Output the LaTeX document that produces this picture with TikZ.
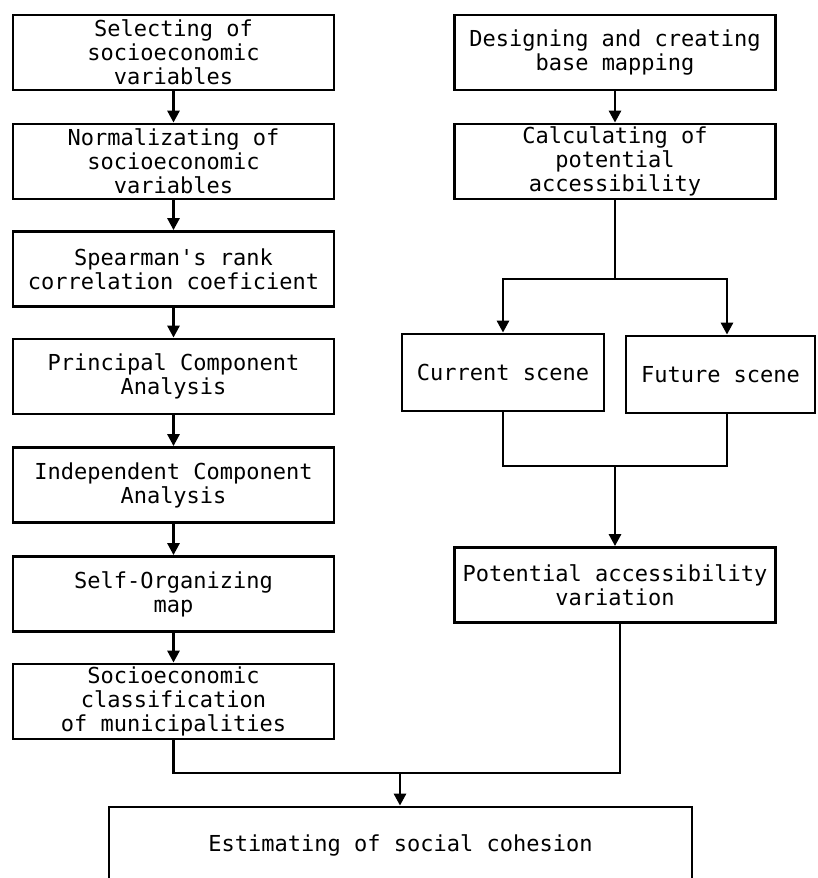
\documentclass[tikz,border=0pt]{standalone}
\usepackage{fontspec}
\setmonofont{DejaVu Sans Mono}
\usepackage{tikz}
\usetikzlibrary{arrows.meta, positioning, calc}

\begin{document}
\begin{tikzpicture}[x=1pt, y=-1pt,
  box/.style={draw, line width=2.8pt, align=center, inner sep=2pt,
    font=\ttfamily\fontsize{22}{24}\selectfont},
  wide/.style={minimum width=321pt, minimum height=75pt},
  flow/.style={line width=2.8pt, -{Triangle[width=12pt,length=12pt]}},
  link/.style={line width=2.8pt}]
\useasboundingbox (0,0) rectangle (817,878);

% Socioeconomic column
\node[box, wide] (select) at (173.5,52.5) {Selecting of\\socioeconomic\\variables};
\node[box, wide] (normal) at (173.5,161.5) {Normalizating of\\socioeconomic\\variables};
\node[box, wide] (spear) at (173.5,269) {Spearman's rank\\correlation coeficient};
\node[box, wide] (pca) at (173.5,376.5) {Principal Component\\Analysis};
\node[box, wide] (ica) at (173.5,485) {Independent Component\\Analysis};
\node[box, wide] (som) at (173.5,594) {Self-Organizing\\map};
\node[box, wide] (classes) at (173.5,701.5) {Socioeconomic\\classification\\of municipalities};

\draw[flow] (select) -- (normal);
\draw[flow] (normal) -- (spear);
\draw[flow] (spear) -- (pca);
\draw[flow] (pca) -- (ica);
\draw[flow] (ica) -- (som);
\draw[flow] (som) -- (classes);

% Accessibility column
\node[box, wide] (base) at (615,52.5) {Designing and creating\\base mapping};
\node[box, wide] (access) at (615,161.5) {Calculating of\\potential\\accessibility};
\node[box, minimum width=202pt, minimum height=77pt] (current) at (503,372.5) {Current scene};
\node[box, minimum width=189pt, minimum height=77pt] (future) at (720.5,374.5) {Future scene};
\node[box, wide] (vary) at (615,585) {Potential accessibility\\variation};

\draw[flow] (base) -- (access);
\coordinate (split) at (615,279);
\coordinate (merge) at (615,466);
\coordinate (futin) at ($(future.north)+(6.5,0)$);
\coordinate (futout) at ($(future.south)+(6.5,0)$);
\draw[link] (access.south) -- (split);
\draw[flow] (split) -| (current.north);
\draw[flow] (split) -| (futin);
\draw[link] (current.south) |- (merge) -| (futout);
\draw[flow] (merge) -- (vary.north);

% Social cohesion
\node[box, minimum width=583pt, minimum height=76pt] (cohesion) at (400.5,845) {Estimating of social cohesion};
\coordinate (join) at (400,773);
\coordinate (varyout) at ($(vary.south)+(5,0)$);
\draw[link] (classes.south) |- (join) -| (varyout);
\draw[flow] (join) -- (join |- cohesion.north);
\end{tikzpicture}
\end{document}
